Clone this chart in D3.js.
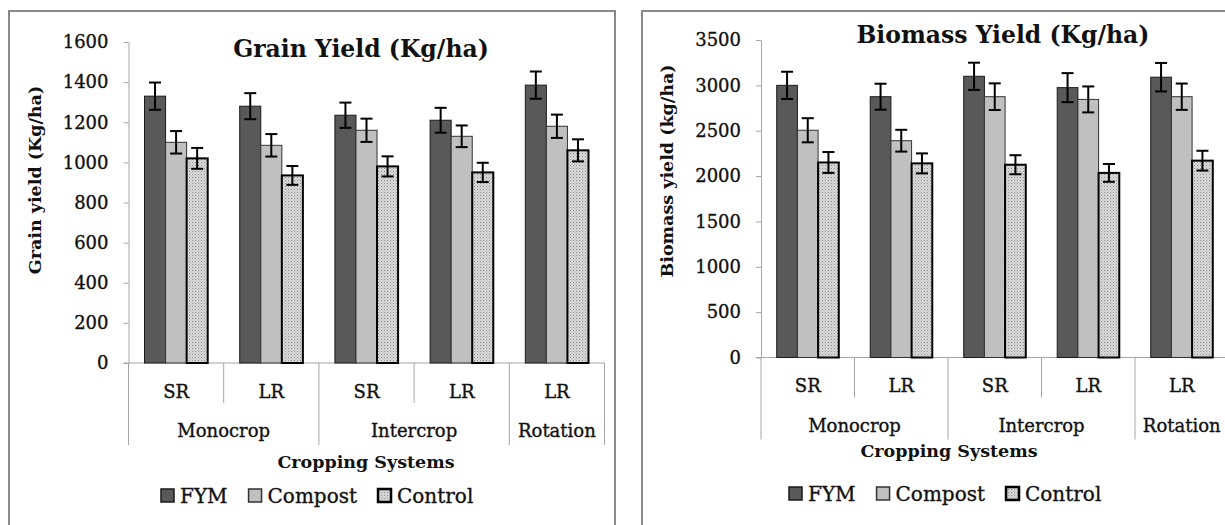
<!DOCTYPE html>
<html>
<head>
<meta charset="utf-8">
<script src="https://cdn.jsdelivr.net/npm/d3@7"></script>
<style>
  html, body { margin: 0; padding: 0; background: #fff; }
  svg { display: block; font-family: "DejaVu Serif", "Liberation Serif", serif; }
  .reg { stroke: #111; stroke-width: 0.35px; }
</style>
</head>
<body>
<svg id="chart" width="1225" height="525"></svg>
<script>
// Categories: season within each cropping system
const categories = ["SR", "LR", "SR", "LR", "LR"];
const systems = ["Monocrop", "Intercrop", "Rotation"];
const systemSpans = [2, 2, 1];
const treatments = ["FYM", "Compost", "Control"];

// Grain yield (Kg/ha) and standard errors
const grainFYM = [1330, 1280, 1235, 1210, 1385];
const grainCompost = [1100, 1085, 1160, 1130, 1180];
const grainControl = [1020, 935, 980, 950, 1060];
const grainErrFYM = [68, 65, 63, 62, 68];
const grainErrCompost = [56, 56, 58, 54, 58];
const grainErrControl = [52, 47, 50, 48, 55];
const grainTicks = [0, 200, 400, 600, 800, 1000, 1200, 1400, 1600];

// Biomass yield (kg/ha) and standard errors
const bioFYM = [3000, 2875, 3100, 2975, 3090];
const bioCompost = [2505, 2390, 2875, 2845, 2875];
const bioControl = [2150, 2140, 2125, 2035, 2170];
const bioErrFYM = [150, 143, 150, 160, 157];
const bioErrCompost = [133, 120, 147, 143, 145];
const bioErrControl = [115, 110, 105, 98, 109];
const bioTicks = [0, 500, 1000, 1500, 2000, 2500, 3000, 3500];

const svg = d3.select("#chart");

// Dotted fill for the Control bars
const defs = svg.append("defs");
const pat = defs.append("pattern")
  .attr("id", "dots").attr("width", 3).attr("height", 3)
  .attr("patternUnits", "userSpaceOnUse");
pat.append("rect").attr("width", 3).attr("height", 3).attr("fill", "#dadada");
pat.append("rect").attr("width", 1).attr("height", 1).attr("fill", "#8a8a8a");
pat.append("rect").attr("x", 1.5).attr("y", 1.5).attr("width", 1).attr("height", 1).attr("fill", "#aaaaaa");

const fills = { FYM: "#595959", Compost: "#c0c0c0", Control: "url(#dots)" };
const strokes = { FYM: "#1a1a1a", Compost: "#333", Control: "#000" };
const strokeW = { FYM: 1, Compost: 1, Control: 2 };

function drawPanel(p) {
  const g = svg.append("g");

  // chart frame
  g.append("rect")
    .attr("x", p.frame[0]).attr("y", p.frame[1])
    .attr("width", p.frame[2]).attr("height", p.frame[3])
    .attr("fill", "none").attr("stroke", "#8a8a8a").attr("stroke-width", 2);

  const y = d3.scaleLinear().domain([0, p.max]).range([p.bottom, p.top]);
  const x = d3.scaleBand().domain(d3.range(categories.length)).range([p.left, p.right]);
  const xs = d3.scaleBand().domain(treatments).range([0, x.bandwidth()]).paddingOuter(0.76);

  // value axis
  const ya = g.append("g").attr("transform", `translate(${p.left},0)`)
    .call(d3.axisLeft(y).tickValues(p.ticks).tickFormat(d3.format("d"))
      .tickSize(5).tickSizeOuter(0).tickPadding(15));
  ya.attr("font-family", null).attr("font-size", null);
  ya.select(".domain").attr("stroke", "#a6a6a6");
  ya.selectAll(".tick line").attr("stroke", "#a6a6a6");
  ya.selectAll(".tick text")
    .attr("class", "reg")
    .attr("font-size", 18).attr("fill", "#111");

  // category axis baseline
  g.append("line")
    .attr("x1", p.left - 5).attr("x2", p.right)
    .attr("y1", y(0)).attr("y2", y(0))
    .attr("stroke", "#a6a6a6");

  // bars
  const rows = categories.map((c, i) => ({ i, values: p.values.map(v => v[i]), errs: p.errs.map(e => e[i]) }));
  treatments.forEach((t, k) => {
    g.append("g").selectAll("rect").data(rows).join("rect")
      .attr("x", d => x(d.i) + xs(t))
      .attr("y", d => y(d.values[k]))
      .attr("width", xs.bandwidth())
      .attr("height", d => y(0) - y(d.values[k]))
      .attr("fill", fills[t])
      .attr("stroke", strokes[t])
      .attr("stroke-width", strokeW[t]);
  });

  // error bars
  treatments.forEach((t, k) => {
    const eg = g.append("g").attr("stroke", "#000").attr("stroke-width", 2);
    rows.forEach(d => {
      const cx = x(d.i) + xs(t) + xs.bandwidth() / 2;
      const hi = y(d.values[k] + d.errs[k]);
      const lo = y(d.values[k] - d.errs[k]);
      eg.append("line").attr("x1", cx).attr("x2", cx).attr("y1", hi).attr("y2", lo);
      eg.append("line").attr("x1", cx - 6).attr("x2", cx + 6).attr("y1", hi).attr("y2", hi);
      eg.append("line").attr("x1", cx - 6).attr("x2", cx + 6).attr("y1", lo).attr("y2", lo);
    });
  });

  // category separators: short between seasons, long between systems
  const groupEdges = [0];
  systemSpans.forEach(s => groupEdges.push(groupEdges[groupEdges.length - 1] + s));
  d3.range(categories.length + 1).forEach(b => {
    const bx = b < categories.length ? x(b) : p.right;
    const long = groupEdges.includes(b);
    g.append("line")
      .attr("x1", bx).attr("x2", bx)
      .attr("y1", y(0)).attr("y2", y(0) + (long ? 82 : 40))
      .attr("stroke", "#a6a6a6");
  });

  // season labels
  g.append("g").selectAll("text").data(categories).join("text")
    .attr("class", "reg")
    .attr("x", (d, i) => x(i) + x.bandwidth() / 2)
    .attr("y", y(0) + p.catY)
    .attr("dy", "0.36em")
    .attr("text-anchor", "middle")
    .attr("font-size", 18).attr("fill", "#111")
    .text(d => d);

  // cropping system labels
  systems.forEach((s, j) => {
    const a = groupEdges[j], b = groupEdges[j + 1];
    const x0 = x(a), x1 = b < categories.length ? x(b) : p.right;
    g.append("text")
      .attr("class", "reg")
      .attr("x", (x0 + x1) / 2).attr("y", y(0) + 69)
      .attr("dy", "0.3em").attr("text-anchor", "middle")
      .attr("font-size", 18).attr("fill", "#111")
      .text(s);
  });

  // axis titles
  g.append("text")
    .attr("x", p.xTitle[0]).attr("y", p.xTitle[1])
    .attr("dy", "0.3em").attr("text-anchor", "middle")
    .attr("font-size", 17.5).attr("font-weight", "bold").attr("fill", "#111")
    .text("Cropping Systems");

  g.append("text")
    .attr("transform", `translate(${p.yTitle[0]},${p.yTitle[1]}) rotate(-90)`)
    .attr("dy", "0.32em").attr("text-anchor", "middle")
    .attr("font-size", 17.5).attr("font-weight", "bold").attr("fill", "#111")
    .text(p.yLabel);

  // chart title
  g.append("text")
    .attr("x", p.title[0]).attr("y", p.title[1])
    .attr("text-anchor", "middle")
    .attr("font-size", 23.5).attr("font-weight", "bold").attr("fill", "#111")
    .text(p.titleText);

  // legend
  let lx = p.legend[0];
  const ly = p.legend[1];
  treatments.forEach(t => {
    g.append("rect")
      .attr("x", lx).attr("y", ly - 7).attr("width", 13).attr("height", 13)
      .attr("fill", fills[t]).attr("stroke", strokes[t]).attr("stroke-width", strokeW[t] + 0.5);
    const tx = g.append("text")
      .attr("class", "reg")
      .attr("x", lx + 19).attr("y", ly).attr("dy", "0.36em")
      .attr("font-size", 20).attr("fill", "#111")
      .text(t);
    lx += 19 + tx.node().getComputedTextLength() + 21;
  });
}

drawPanel({
  frame: [9, 11, 606, 560],
  left: 128.5, right: 604.5, top: 42, bottom: 363, max: 1600,
  ticks: grainTicks,
  values: [grainFYM, grainCompost, grainControl],
  errs: [grainErrFYM, grainErrCompost, grainErrControl],
  catY: 29,
  xTitle: [366, 463],
  yTitle: [35, 180],
  yLabel: "Grain yield (Kg/ha)",
  title: [361, 57],
  titleText: "Grain Yield (Kg/ha)",
  legend: [161, 496]
});

drawPanel({
  frame: [642, 11, 640, 560],
  left: 761, right: 1228.5, top: 40, bottom: 357.5, max: 3500,
  ticks: bioTicks,
  values: [bioFYM, bioCompost, bioControl],
  errs: [bioErrFYM, bioErrCompost, bioErrControl],
  catY: 28,
  xTitle: [949, 452],
  yTitle: [667, 171],
  yLabel: "Biomass yield (kg/ha)",
  title: [1003, 43],
  titleText: "Biomass Yield (Kg/ha)",
  legend: [789, 494]
});
</script>
</body>
</html>
